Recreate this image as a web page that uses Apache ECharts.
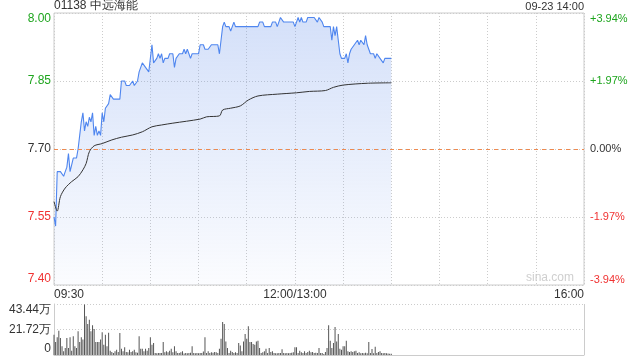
<!DOCTYPE html>
<html><head><meta charset="utf-8">
<script src="https://cdn.jsdelivr.net/npm/echarts@6/dist/echarts.min.js"></script>
<style>html,body{margin:0;padding:0;background:#fff}#c{width:640px;height:360px}</style>
</head><body><div id="c"></div>
<script>
// ---- data ----
const titleText = '01138 中远海能';
const timeText = '09-23 14:00';
const xTickLabels = {0: '09:30', 150: '12:00/13:00', 330: '16:00'};
const priceTicks = [7.40, 7.55, 7.70, 7.85, 8.00];
const pctLabels = ['-3.94%', '-1.97%', '0.00%', '+1.97%', '+3.94%'];
const volTickLabels = ['0', '21.72万', '43.44万'];
const prevClose = 7.70;
// price per minute (minute 0 = 09:30, lunch break skipped)
const price = [
 7.55,7.53,7.65,7.65,7.65,7.65,7.64,7.65,7.66,7.69,
 7.65,7.65,7.68,7.68,7.68,7.70,7.73,7.76,7.78,7.74,
 7.76,7.75,7.77,7.76,7.78,7.73,7.75,7.73,7.74,7.73,
 7.78,7.76,7.79,7.79,7.80,7.82,7.82,7.81,7.81,7.81,
 7.81,7.81,7.85,7.85,7.85,7.84,7.84,7.84,7.84,7.85,
 7.84,7.84,7.85,7.87,7.88,7.89,7.89,7.88,7.88,7.87,
 7.90,7.93,7.89,7.89,7.90,7.91,7.90,7.91,7.89,7.90,
 7.90,7.90,7.91,7.91,7.91,7.88,7.90,7.90,7.91,7.91,
 7.91,7.92,7.91,7.92,7.91,7.90,7.91,7.91,7.91,7.91,
 7.91,7.93,7.93,7.93,7.92,7.92,7.92,7.92,7.93,7.93,
 7.93,7.93,7.93,7.91,7.94,7.97,7.98,7.97,7.97,7.97,
 7.96,7.97,7.98,7.97,7.97,7.97,7.97,7.97,7.97,7.97,
 7.97,7.97,7.97,7.97,7.97,7.97,7.97,7.97,7.98,7.98,
 7.98,7.97,7.97,7.97,7.97,7.97,7.98,7.98,7.98,7.97,
 7.98,7.99,7.99,7.98,7.98,7.98,7.98,7.98,7.98,7.98,
 7.97,7.98,7.99,7.98,7.99,7.98,7.98,7.98,7.99,7.99,
 7.99,7.99,7.99,7.99,7.98,7.99,7.99,7.98,7.97,7.97,
 7.97,7.97,7.97,7.94,7.97,7.95,7.97,7.94,7.91,7.90,
 7.90,7.90,7.91,7.89,7.91,7.92,7.92,7.93,7.93,7.94,
 7.93,7.94,7.94,7.93,7.95,7.93,7.92,7.91,7.91,7.91,
 7.90,7.91,7.91,7.90,7.90,7.89,7.90,7.90,7.90,7.90,
 7.90
];
// average price line, read at selected minutes
const avgMin = [0,2,4,7,11,15,18,20,22,25,30,36,42,49,55,61,67,74,91,95,103,105,110,116,121,127,139,151,159,169,174,180,195,210];
const avgVal = [7.584,7.563,7.595,7.614,7.628,7.639,7.654,7.668,7.694,7.707,7.712,7.720,7.726,7.731,7.738,7.749,7.753,7.757,7.766,7.771,7.773,7.786,7.790,7.795,7.808,7.817,7.821,7.824,7.827,7.829,7.836,7.841,7.845,7.846];
// volume per minute (万股)
const volume = [
 17.3,11.1,15.1,20.7,14.5,7.4,3.1,6.0,14.5,6.0,
 15.1,3.7,15.9,7.4,6.0,20.2,11.1,15.1,13.1,43.0,
 33.0,26.4,30.1,20.2,25.3,22.2,11.1,11.1,11.1,13.1,
 19.3,8.8,17.3,7.4,19.0,3.7,2.6,1.7,3.1,4.5,
 2.6,18.7,5.4,3.1,6.5,2.6,2.3,4.5,2.6,3.1,
 4.5,2.3,2.0,15.9,5.4,5.4,3.1,5.4,3.7,6.0,
 15.1,8.8,10.2,1.7,1.4,1.7,1.7,1.7,11.1,2.3,
 3.1,2.3,3.7,5.4,2.3,7.4,3.1,1.7,1.7,2.3,
 3.1,1.2,1.7,1.4,1.7,2.0,7.4,1.7,1.4,1.7,
 1.4,1.7,1.7,3.0,15.1,1.7,3.1,1.7,2.3,2.0,
 2.6,2.3,1.7,5.4,13.9,28.1,26.4,11.6,6.0,1.7,
 3.7,2.6,1.7,2.3,1.7,10.2,8.0,3.1,11.6,17.9,
 13.9,24.4,11.1,11.1,9.4,8.8,11.6,12.2,6.0,1.7,
 2.3,3.1,5.4,1.7,6.0,2.6,3.1,1.7,1.4,1.4,
 1.7,1.7,5.0,1.7,1.4,1.7,1.4,1.7,2.0,2.3,
 6.5,6.5,1.7,3.7,2.3,1.7,3.1,1.7,2.6,3.7,
 2.3,2.6,1.7,2.0,1.7,6.0,1.7,1.7,0.9,2.6,
 6.0,25.3,12.2,6.0,10.2,23.9,11.6,17.9,5.4,4.5,
 7.4,7.4,12.2,3.1,2.6,3.1,2.6,3.1,3.7,1.7,
 2.3,1.4,1.7,1.4,2.0,1.4,11.1,1.7,5.1,1.4,
 7.1,1.7,2.6,3.1,1.7,1.4,1.7,1.4,1.2,1.0,
 1.0
];
const volMax = 43.44;

// ---- chart ----
const GREEN = '#1ea51e', RED = '#f03232', TXT = '#333';
const FONT = 'Liberation Sans, Arial, sans-serif';
const chart = echarts.init(document.getElementById('c'), null, {renderer: 'canvas'});
const priceColor = v => v > prevClose + 1e-6 ? GREEN : (v < prevClose - 1e-6 ? RED : TXT);

const option = {
  animation: false,
  textStyle: {fontFamily: FONT},
  title: [
    {text: titleText, left: 54, top: 0, padding: 0, textStyle: {fontSize: 12, fontWeight: 'normal', color: TXT, fontFamily: FONT}},
    {text: timeText, right: 56, top: 1, padding: 0, textStyle: {fontSize: 11, fontWeight: 'normal', color: TXT, fontFamily: FONT}}
  ],
  graphic: [{
    type: 'text', right: 66, top: 272, silent: true,
    style: {text: 'sina.com', fill: '#cfcfcf', font: '12px ' + FONT}
  }],
  grid: [
    {left: 54, right: 56, top: 13, height: 272, show: true, borderColor: '#cccccc', borderWidth: 1},
    {left: 54, right: 56, top: 304, height: 51, show: false}
  ],
  xAxis: [
    {type: 'value', gridIndex: 0, min: 0, max: 330, interval: 30,
     axisLine: {show: false}, axisTick: {show: false},
     splitLine: {show: true, lineStyle: {color: '#cccccc', type: [1, 2]}},
     axisLabel: {show: true, margin: 4, fontSize: 12, color: TXT, fontFamily: FONT,
       alignMinLabel: 'left', alignMaxLabel: 'right',
       formatter: v => xTickLabels[v] || ''}},
    {type: 'value', gridIndex: 1, min: 0, max: 330, interval: 330,
     axisLine: {show: true, lineStyle: {color: '#cccccc'}}, axisTick: {show: false},
     axisLabel: {show: false},
     splitLine: {show: true, lineStyle: {color: '#cccccc', type: 'solid'}}}
  ],
  yAxis: [
    {type: 'value', gridIndex: 0, min: priceTicks[0], max: priceTicks[4], interval: 0.15, position: 'left',
     axisLine: {show: false}, axisTick: {show: false},
     splitLine: {show: true, lineStyle: {color: '#cccccc', type: [1, 2]}},
     axisLabel: {margin: 3, fontSize: 12, fontFamily: FONT,
       verticalAlignMinLabel: 'bottom', verticalAlignMaxLabel: 'top',
       formatter: (v, i) => priceTicks[i] !== undefined ? priceTicks[i].toFixed(2) : '',
       color: (v, i) => priceColor(priceTicks[i])}},
    {type: 'value', gridIndex: 0, min: priceTicks[0], max: priceTicks[4], interval: 0.15, position: 'right',
     axisLine: {show: false}, axisTick: {show: false}, splitLine: {show: false},
     axisLabel: {margin: 6, fontSize: 11, fontFamily: FONT,
       verticalAlignMinLabel: 'bottom', verticalAlignMaxLabel: 'top',
       formatter: (v, i) => pctLabels[i] || '',
       color: (v, i) => priceColor(priceTicks[i])}},
    {type: 'value', gridIndex: 1, min: 0, max: volMax, interval: volMax / 2, position: 'left',
     axisLine: {show: true, lineStyle: {color: '#cccccc'}}, axisTick: {show: false},
     splitLine: {show: true, lineStyle: {color: '#cccccc', type: [1, 2]}},
     axisLabel: {margin: 3, fontSize: 12, color: TXT, fontFamily: FONT,
       verticalAlignMinLabel: 'bottom', verticalAlignMaxLabel: 'top',
       formatter: (v, i) => volTickLabels[i] || ''}}
  ],
  series: [
    {type: 'line', name: 'price', xAxisIndex: 0, yAxisIndex: 0, symbol: 'none',
     data: price.map((v, i) => [i, v]),
     lineStyle: {color: '#4f86ef', width: 1.1},
     areaStyle: {origin: 'start', color: new echarts.graphic.LinearGradient(0, 0, 0, 1, [
       {offset: 0, color: 'rgba(110,150,235,0.42)'},
       {offset: 1, color: 'rgba(110,150,235,0.04)'}])},
     markLine: {silent: true, symbol: 'none', label: {show: false}, z: 10,
       lineStyle: {color: '#ee8a50', type: [4, 4], width: 1, opacity: 1},
       emphasis: {disabled: true},
       data: [{yAxis: prevClose}]}},
    {type: 'line', name: 'avg', xAxisIndex: 0, yAxisIndex: 0, symbol: 'none', smooth: 0.3,
     data: avgMin.map((m, i) => [m, avgVal[i]]),
     lineStyle: {color: '#333333', width: 1}},
    {type: 'bar', name: 'vol', xAxisIndex: 1, yAxisIndex: 2, barWidth: 1,
     data: volume.map((v, i) => [i, v]),
     itemStyle: {color: '#555555'}}
  ]
};
chart.setOption(option);
</script></body></html>
